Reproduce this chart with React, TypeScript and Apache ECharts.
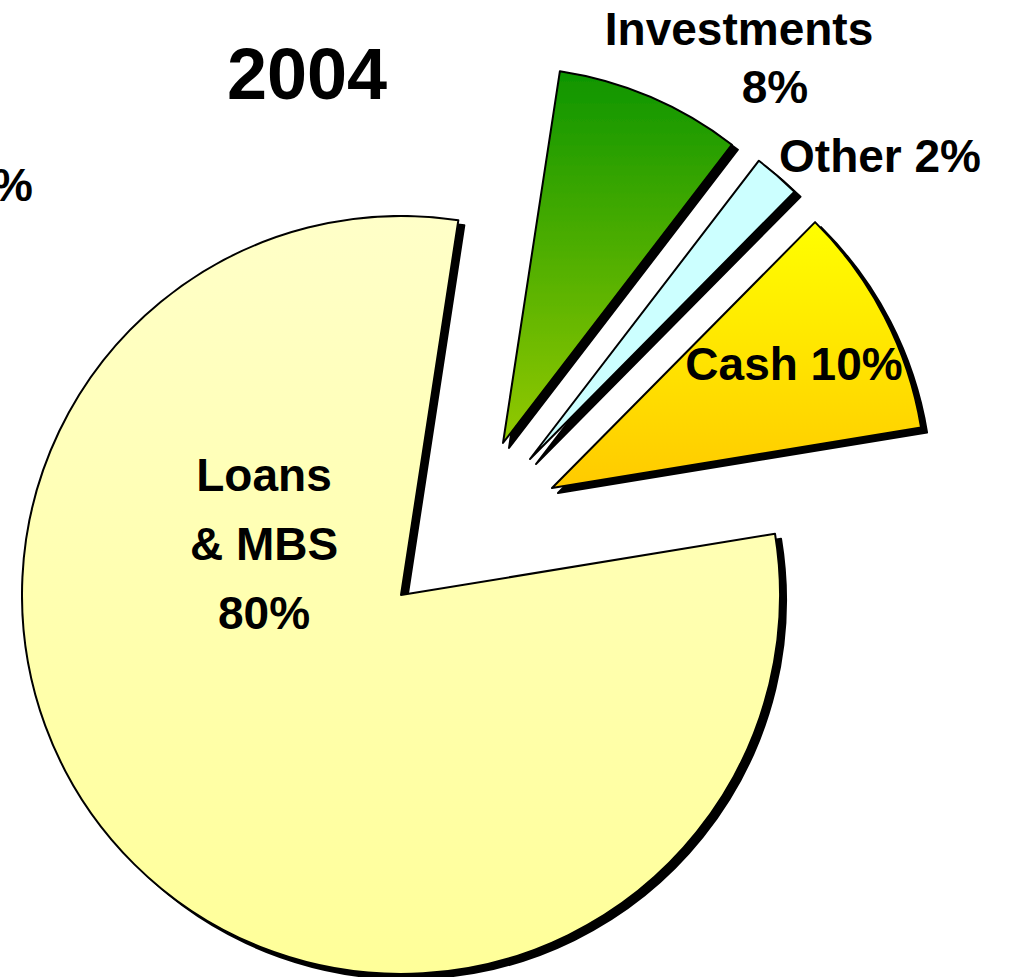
import React, { useEffect, useRef } from 'react';
import * as echarts from 'echarts';

const titleText = '2004';
const categories = ['Investments', 'Other', 'Cash', 'Loans & MBS'];
const values = [8, 2, 10, 80];
const labelTexts = ['{a|Investments}\n{b|8%}', 'Other 2%', 'Cash 10%', 'Loans\n& MBS\n80%'];
const sideFragment = '%';

// styling / layout (not data)
const sliceColors = [
  ['#0E9500', '#93C900'],
  ['#CCFFFF', '#CCFFFF'],
  ['#FFFF00', '#FFCA00'],
  ['#FFFFC8', '#FFFF99'],
];
const centers: [number, number][] = [
  [503, 443],
  [530, 459],
  [552, 488],
  [401, 595],
];
const radii = [376, 376, 374, 379];
const labelPos: [number, number][] = [
  [739, 58],
  [880, 156],
  [794, 364],
  [264, 544],
];
const FONT = '"Liberation Sans", Arial, Helvetica, sans-serif';

export default function App() {
  const ref = useRef<HTMLDivElement>(null);
  useEffect(() => {
    if (!ref.current) return;
    const chart = echarts.init(ref.current, undefined, { renderer: 'svg' });
    const order = [3, 0, 1, 2];
    const series = order.map((s) => ({
      type: 'pie',
      name: categories[s],
      center: centers[s],
      radius: radii[s],
      startAngle: 81.3,
      clockwise: true,
      silent: true,
      animation: false,
      emphasis: { disabled: true },
      labelLine: { show: false },
      labelLayout: () => ({
        x: labelPos[s][0],
        y: labelPos[s][1],
        align: 'center',
        verticalAlign: 'middle',
      }),
      data: categories.map((name, i) => ({
        name,
        value: values[i],
        itemStyle:
          i === s
            ? {
                color: new echarts.graphic.LinearGradient(0, 0, 0, 1, [
                  { offset: 0, color: sliceColors[i][0] },
                  { offset: 1, color: sliceColors[i][1] },
                ]),
                borderColor: '#000',
                borderWidth: 2,
                shadowColor: '#000',
                shadowBlur: 0,
                shadowOffsetX: 6,
                shadowOffsetY: 5,
              }
            : { color: 'rgba(0,0,0,0)', borderWidth: 0 },
        label:
          i === s
            ? {
                show: true,
                position: 'inside',
                formatter: labelTexts[i],
                color: '#000',
                fontFamily: FONT,
                fontWeight: 'bold',
                fontSize: 46,
                lineHeight: 69,
                align: 'center',
                rich: {
                  a: { fontFamily: FONT, fontWeight: 'bold', fontSize: 46, lineHeight: 58, color: '#000', align: 'center' },
                  b: {
                    fontFamily: FONT,
                    fontWeight: 'bold',
                    fontSize: 46,
                    lineHeight: 58,
                    color: '#000',
                    align: 'center',
                    padding: [0, 0, 0, 72],
                  },
                },
              }
            : { show: false },
      })),
    }));

    chart.setOption({
      animation: false,
      backgroundColor: '#fff',
      title: {
        text: titleText,
        left: 307,
        top: 38,
        padding: 0,
        textAlign: 'center',
        textStyle: { fontFamily: FONT, fontWeight: 'bold', fontSize: 72, color: '#000' },
      },
      graphic: [
        {
          type: 'text',
          x: 33,
          y: 185,
          silent: true,
          style: {
            text: sideFragment,
            fontFamily: FONT,
            fontWeight: 'bold',
            fontSize: 46,
            fill: '#000',
            align: 'right',
            verticalAlign: 'middle',
          },
        },
      ],
      series,
    } as any);
    return () => chart.dispose();
  }, []);
  return (
    <div
      ref={ref}
      style={{ position: 'fixed', left: 0, top: 0, width: 1012, height: 977, background: '#fff' }}
    />
  );
}
